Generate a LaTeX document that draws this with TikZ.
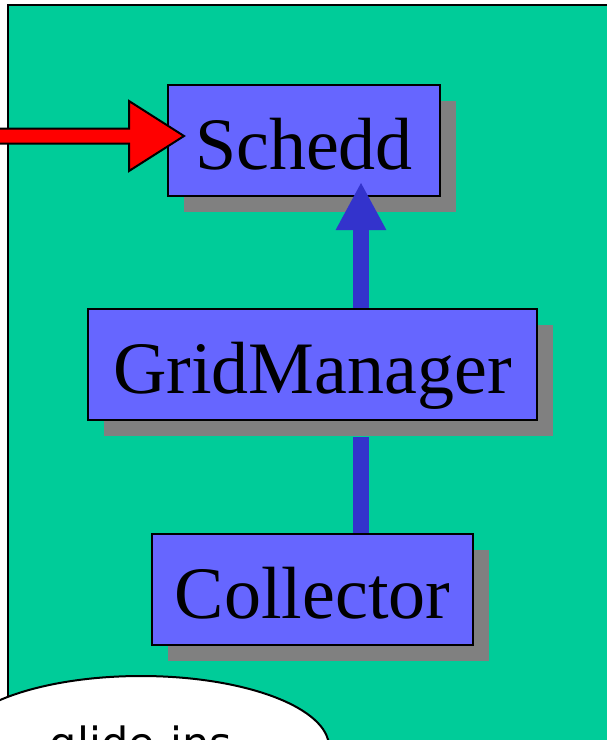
\documentclass[tikz,border=0pt]{standalone}
\usepackage{xcolor}
\usepackage{fontspec}
\setmainfont{Liberation Serif}
\newfontfamily\glidefont{DejaVu Sans}
\usepackage{tikz}
\usetikzlibrary{shapes,arrows.meta,positioning,shadows}

\definecolor{poolgreen}{HTML}{00CC99}
\definecolor{daemonblue}{HTML}{6666FF}
\definecolor{linkblue}{HTML}{3333CC}
\definecolor{shadowgray}{HTML}{808080}

\tikzset{
    daemon/.style={
        draw=black,
        line width=2pt,
        fill=daemonblue,
        minimum height=111pt,
        inner sep=0pt,
        text height=57pt,
        text depth=0pt,
        font=\fontsize{74}{80}\selectfont,
        drop shadow={shadow xshift=16pt, shadow yshift=-16pt, fill=shadowgray, opacity=1}
    },
    link/.style={
        draw=linkblue,
        line width=16pt
    }
}

\begin{document}
\begin{tikzpicture}[x=1pt,y=-1pt]
                \useasboundingbox (0,0) rectangle (606,740);

                \draw[
                    line width=2pt,
                    fill=poolgreen
                    ] (8,5) rectangle (620,760);

                \node[daemon, minimum width=272pt] (schedd) at (304,140.5) {Schedd};
                \node[daemon, minimum width=449pt] (gridmanager) at (312.5,364.5) {GridManager};
                \node[daemon, minimum width=321pt] (collector) at (312.5,589.5) {Collector};

                \coordinate (spine) at (361,0);
                \coordinate (tip) at (184,136);

                \draw[
                    link
                ] (collector.north -| spine) to ([yshift=-16pt]gridmanager.south -| spine);

                \draw[
                    link,
                    -{Triangle[width=47pt,length=48pt]}
                ] (gridmanager.north -| spine) to ([yshift=15pt]schedd.south -| spine);

                \draw[
                    line width=2pt,
                    fill=red
                    ] (tip) -- ++(-55,-35) -- ++(0,27.5) -- (-5,128.5) -- (-5,143.5)
                    -- (129,143.5) -- (129,171) -- cycle;

                \node[
                    ellipse,
                    draw=black,
                    line width=2pt,
                    fill=white,
                    minimum width=376pt,
                    minimum height=142pt,
                    inner sep=0pt,
                    font=\glidefont\fontsize{43}{50}\selectfont
                    ] (glideins) at (141,747) {glide-ins};

\end{tikzpicture}
\end{document}
